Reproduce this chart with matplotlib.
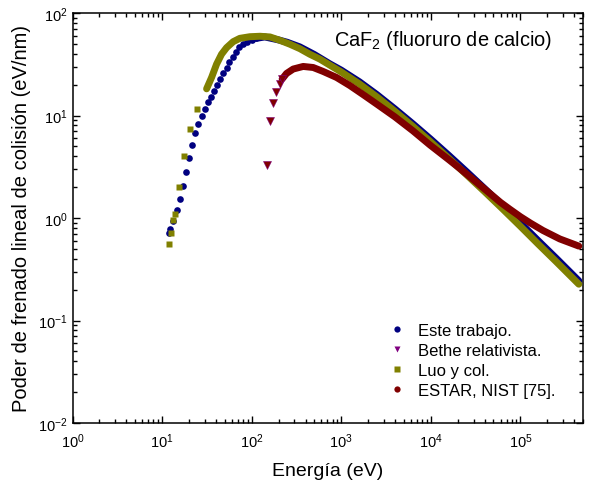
import matplotlib
matplotlib.use("Agg")
import matplotlib.pyplot as plt
from matplotlib.lines import Line2D
from matplotlib.ticker import LogLocator, FixedLocator, NullFormatter

plt.rcParams['font.family'] = ['Liberation Sans', 'DejaVu Sans']
plt.rcParams['mathtext.fontset'] = 'custom'
plt.rcParams['mathtext.rm'] = 'Liberation Sans'
plt.rcParams['mathtext.it'] = 'Liberation Sans:italic'

# ---- data (energy in eV, stopping power in eV/nm) ----
este_E_sparse = [11.9, 12.3, 13.4, 14.6, 15.8, 17.2, 18.6, 20.1, 21.7, 23.6, 25.5, 27.8,
                 30.0, 32.5, 35.1, 37.9, 40.9, 44.2, 48.1, 52.5, 56.1, 61.2, 66.7, 72.6,
                 80.4, 89.1, 99.8, 113]
este_S_sparse = [0.718, 0.773, 0.944, 1.20, 1.53, 2.03, 2.79, 3.85, 5.21, 6.71, 8.26, 9.96,
                 11.5, 13.4, 15.3, 17.5, 19.9, 22.5, 25.7, 29.2, 33.1, 37.4, 42.0, 46.4,
                 49.5, 52.1, 54.6, 56.6]
este_E_dense = [113, 140, 200, 250, 345, 500, 746, 1000, 1600, 2500, 3970, 6300, 10000,
                15800, 25100, 39800, 63100, 100000, 158000, 251000, 398000, 449000]
este_S_dense = [56.6, 58.4, 54.6, 51.8, 46.7, 39.4, 31.9, 27.7, 21.3, 16.0, 11.6, 8.3, 5.86,
                4.10, 2.83, 1.94, 1.32, 0.894, 0.601, 0.405, 0.271, 0.244]

luo_E_sparse = [12.1, 12.5, 13.3, 13.9, 15.5, 17.5, 20.6, 24.6]
luo_S_sparse = [0.552, 0.718, 0.95, 1.10, 2.01, 4.02, 7.33, 11.5]
luo_E_dense = [31.4, 35.7, 40.6, 46.1, 52.5, 62.2, 73.8, 95.5, 124, 160, 206, 267, 345, 446,
               577, 746, 1000, 1600, 2500, 3970, 6300, 10000, 15800, 25100, 39800, 63100,
               100000, 158000, 251000, 398000, 449000]
luo_S_dense = [18.2, 23.5, 31.7, 39.6, 45.9, 52.5, 56.6, 58.7, 59.3, 58.4, 54.2, 49.6, 44.9,
               39.6, 35.5, 31.0, 26.6, 20.3, 15.2, 11.0, 7.85, 5.52, 3.84, 2.64, 1.81, 1.23,
               0.830, 0.557, 0.375, 0.251, 0.226]

bethe_E_sparse = [148, 161, 174, 188, 205, 219]
bethe_S_sparse = [3.29, 8.77, 13.3, 17.1, 20.1, 22.7]
bethe_E_dense = [219, 245, 291, 376, 486, 628, 887, 1248, 1755, 2500, 3970, 6300, 9800,
                 15800, 21000, 30000, 45500, 60000, 76000, 100000, 130000, 179000, 275000,
                 449000]
bethe_S_dense = [22.7, 25.7, 28.4, 30.1, 29.4, 26.9, 23.5, 19.6, 16.0, 12.9, 9.7, 7.1, 5.15,
                 3.72, 3.05, 2.36, 1.74, 1.42, 1.22, 1.03, 0.89, 0.755, 0.625, 0.532]

labels = ["Este trabajo.", "Bethe relativista.", "Luo y col.", "ESTAR, NIST [75]."]

c_blue = '#000080'
c_olive = '#808000'
c_purple = '#800080'
c_red = '#800000'

fig = plt.figure(figsize=(5.9, 4.89), dpi=100)
ax = fig.add_axes([72.5/590, 1-424/489, (583-72.5)/590, (424-14)/489])

lw_band = 5.0
# Este trabajo
ax.plot(este_E_dense, este_S_dense, '-', color=c_blue, lw=lw_band, solid_capstyle='round', zorder=2)
ax.plot(este_E_sparse, este_S_sparse, 'o', color=c_blue, ms=4.8, mec='none', zorder=2)
# Luo
ax.plot(luo_E_dense, luo_S_dense, '-', color=c_olive, lw=lw_band, solid_capstyle='round', zorder=3)
ax.plot(luo_E_sparse, luo_S_sparse, 's', color=c_olive, ms=4.2, mec='none', zorder=3)
# Bethe / ESTAR curve
ax.plot(bethe_E_dense, bethe_S_dense, '-', color=c_red, lw=lw_band, solid_capstyle='round', zorder=4)
ax.plot(bethe_E_sparse, bethe_S_sparse, 'v', color=c_red, ms=5.2, mec=c_purple, mew=0.4, zorder=4)

ax.set_xscale('log')
ax.set_yscale('log')
ax.set_xlim(1, 5e5)
ax.set_ylim(1e-2, 1e2)

ax.xaxis.set_major_locator(FixedLocator([1e0, 1e1, 1e2, 1e3, 1e4, 1e5]))
ax.yaxis.set_major_locator(FixedLocator([1e-2, 1e-1, 1e0, 1e1, 1e2]))
ax.xaxis.set_minor_locator(LogLocator(base=10, subs=range(2, 10), numticks=20))
ax.yaxis.set_minor_locator(LogLocator(base=10, subs=range(2, 10), numticks=20))
ax.xaxis.set_minor_formatter(NullFormatter())
ax.yaxis.set_minor_formatter(NullFormatter())
ax.set_xticklabels([r'$\mathregular{10^{%d}}$' % k for k in range(0, 6)])
ax.set_yticklabels([r'$\mathregular{10^{%d}}$' % k for k in range(-2, 3)])

ax.tick_params(which='both', direction='in', top=True, right=True, width=1.0, labelsize=10.5)
ax.tick_params(which='major', length=5)
ax.tick_params(which='minor', length=3)
ax.tick_params(axis='x', which='major', pad=6)
for s in ax.spines.values():
    s.set_linewidth(1.1)

ax.set_xlabel('Energía (eV)', fontsize=14, labelpad=9)
ax.set_ylabel('Poder de frenado lineal de colisión (eV/nm)', fontsize=14.5, labelpad=5)

ax.text(0.512, 0.935, r'CaF$\mathregular{_2}$ (fluoruro de calcio)', transform=ax.transAxes,
        fontsize=14.4, ha='left', va='center')

handles = [
    Line2D([], [], ls='none', marker='o', color=c_blue, ms=4.5, mec='none'),
    Line2D([], [], ls='none', marker='v', color=c_purple, ms=5, mec='none'),
    Line2D([], [], ls='none', marker='s', color=c_olive, ms=4.2, mec='none'),
    Line2D([], [], ls='none', marker='o', color=c_red, ms=4.5, mec='none'),
]
ax.legend(handles, labels, loc='lower left', bbox_to_anchor=(0.606, 0.045), frameon=False,
          fontsize=12, handlelength=1.0, handletextpad=0.75, labelspacing=0.3,
          borderaxespad=0)

fig.savefig('out.png', dpi=100)
